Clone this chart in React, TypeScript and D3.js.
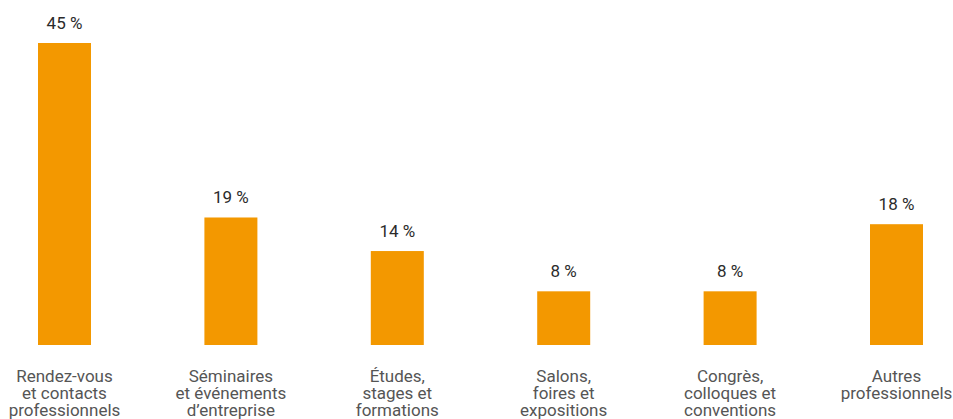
import React from "react";
import * as d3 from "d3";

const categories: string[][] = [
  ["Rendez-vous", "et contacts", "professionnels"],
  ["Séminaires", "et événements", "d’entreprise"],
  ["Études,", "stages et", "formations"],
  ["Salons,", "foires et", "expositions"],
  ["Congrès,", "colloques et", "conventions"],
  ["Autres", "professionnels"],
];
const values: number[] = [45, 19, 14, 8, 8, 18];
const valueLabels: string[] = ["45 %", "19 %", "14 %", "8 %", "8 %", "18 %"];

const W = 953;
const H = 419;
const BAR_W = 53;
const BASE = 345;
const FONT = "Roboto, 'DejaVu Sans', sans-serif";

export default function App() {
  const idx = categories.map((_, i) => String(i));
  const x = d3.scalePoint<string>().domain(idx).range([64.5, 896.5]);
  const y = d3.scaleLinear().domain([0, 45]).range([BASE, 43]);

  return (
    <div style={{ position: "absolute", left: 0, top: 0 }}>
      <svg width={W} height={H} style={{ display: "block", fontFamily: FONT }}>
        <rect x={0} y={0} width={W} height={H} fill="#fff" />
        {values.map((v, i) => {
          const cx = x(String(i)) as number;
          return (
            <g key={i}>
              <rect x={cx - BAR_W / 2} y={y(v)} width={BAR_W} height={y(0) - y(v)} fill="#F39800" />
              <text x={cx} y={y(v) - 14} textAnchor="middle" fontSize={17} fill="#2b2b2b">
                {valueLabels[i]}
              </text>
              <text textAnchor="middle" fontSize={17} fill="#555">
                {categories[i].map((line, j) => (
                  <tspan key={j} x={cx} y={382 + j * 17}>
                    {line}
                  </tspan>
                ))}
              </text>
            </g>
          );
        })}
      </svg>
    </div>
  );
}
